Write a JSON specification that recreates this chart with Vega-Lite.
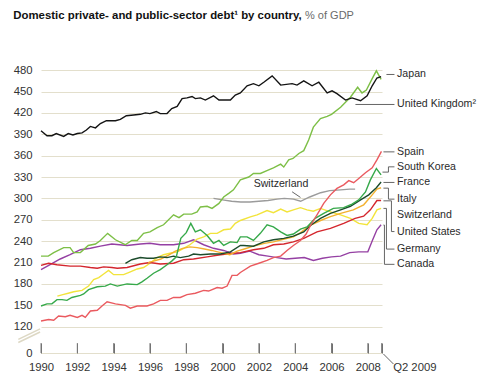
{
  "$schema": "https://vega.github.io/schema/vega-lite/v6.json",
  "width": 341,
  "height": 290,
  "autosize": "none",
  "padding": {"left": 41, "top": 63, "right": 98, "bottom": 33},
  "background": "white",
  "config": {
    "view": {"stroke": null},
    "font": "Liberation Sans",
    "axis": {"labelOverlap": false, "labelFlush": false, "labelFont": "Liberation Sans", "labelFontSize": 11.3, "labelColor": "#333", "title": null, "tickCount": 60},
    "axisX": {"grid": false, "domain": false, "ticks": true, "tickSize": -10, "tickColor": "#6f6f6f", "tickWidth": 1, "labelPadding": 18},
    "axisY": {"grid": true, "gridColor": "#e3dfcc", "domain": false, "ticks": false, "labelPadding": 9}
  },
  "datasets": {
    "series": [
      {"country": "Switzerland", "year": 1999.5, "value": 300}, {"country": "Switzerland", "year": 2000.0, "value": 298}, {"country": "Switzerland", "year": 2000.5, "value": 296}, {"country": "Switzerland", "year": 2001.0, "value": 295}, {"country": "Switzerland", "year": 2001.5, "value": 295}, {"country": "Switzerland", "year": 2002.0, "value": 296}, {"country": "Switzerland", "year": 2002.5, "value": 297}, {"country": "Switzerland", "year": 2003.0, "value": 299}, {"country": "Switzerland", "year": 2003.4, "value": 300}, {"country": "Switzerland", "year": 2003.9, "value": 299}, {"country": "Switzerland", "year": 2004.3, "value": 296}, {"country": "Switzerland", "year": 2004.8, "value": 302}, {"country": "Switzerland", "year": 2005.4, "value": 308}, {"country": "Switzerland", "year": 2005.9, "value": 311}, {"country": "Switzerland", "year": 2006.5, "value": 312}, {"country": "Switzerland", "year": 2007.0, "value": 313}, {"country": "Switzerland", "year": 2007.3, "value": 313},

      {"country": "Canada", "year": 1990.0, "value": 200}, {"country": "Canada", "year": 1990.5, "value": 207}, {"country": "Canada", "year": 1991.06, "value": 215}, {"country": "Canada", "year": 1991.6, "value": 221}, {"country": "Canada", "year": 1992.17, "value": 228}, {"country": "Canada", "year": 1992.72, "value": 230}, {"country": "Canada", "year": 1993.27, "value": 233}, {"country": "Canada", "year": 1993.9, "value": 236}, {"country": "Canada", "year": 1994.74, "value": 234}, {"country": "Canada", "year": 1995.47, "value": 236}, {"country": "Canada", "year": 1996.0, "value": 237}, {"country": "Canada", "year": 1996.57, "value": 235}, {"country": "Canada", "year": 1997.3, "value": 235}, {"country": "Canada", "year": 1997.86, "value": 237}, {"country": "Canada", "year": 1998.4, "value": 242}, {"country": "Canada", "year": 1998.96, "value": 235}, {"country": "Canada", "year": 1999.5, "value": 230}, {"country": "Canada", "year": 2000.06, "value": 227}, {"country": "Canada", "year": 2000.6, "value": 222}, {"country": "Canada", "year": 2000.98, "value": 223}, {"country": "Canada", "year": 2001.5, "value": 226}, {"country": "Canada", "year": 2002.0, "value": 221}, {"country": "Canada", "year": 2002.5, "value": 219}, {"country": "Canada", "year": 2003.0, "value": 217}, {"country": "Canada", "year": 2003.5, "value": 215}, {"country": "Canada", "year": 2004.0, "value": 216}, {"country": "Canada", "year": 2004.5, "value": 217}, {"country": "Canada", "year": 2005.0, "value": 213}, {"country": "Canada", "year": 2005.5, "value": 216}, {"country": "Canada", "year": 2006.0, "value": 218}, {"country": "Canada", "year": 2006.5, "value": 219}, {"country": "Canada", "year": 2007.0, "value": 224}, {"country": "Canada", "year": 2007.5, "value": 225}, {"country": "Canada", "year": 2008.0, "value": 225}, {"country": "Canada", "year": 2008.25, "value": 241}, {"country": "Canada", "year": 2008.5, "value": 256}, {"country": "Canada", "year": 2008.73, "value": 263},

      {"country": "Germany", "year": 1990.9, "value": 163}, {"country": "Germany", "year": 1991.2, "value": 165}, {"country": "Germany", "year": 1991.5, "value": 167}, {"country": "Germany", "year": 1991.8, "value": 169}, {"country": "Germany", "year": 1992.26, "value": 171}, {"country": "Germany", "year": 1992.62, "value": 177}, {"country": "Germany", "year": 1992.9, "value": 186}, {"country": "Germany", "year": 1993.18, "value": 189}, {"country": "Germany", "year": 1993.45, "value": 194}, {"country": "Germany", "year": 1993.72, "value": 199}, {"country": "Germany", "year": 1994.0, "value": 193}, {"country": "Germany", "year": 1994.55, "value": 193}, {"country": "Germany", "year": 1994.92, "value": 197}, {"country": "Germany", "year": 1995.3, "value": 201}, {"country": "Germany", "year": 1995.65, "value": 203}, {"country": "Germany", "year": 1996.0, "value": 209}, {"country": "Germany", "year": 1996.4, "value": 217}, {"country": "Germany", "year": 1996.75, "value": 221}, {"country": "Germany", "year": 1997.1, "value": 223}, {"country": "Germany", "year": 1997.5, "value": 225}, {"country": "Germany", "year": 1997.86, "value": 230}, {"country": "Germany", "year": 1998.2, "value": 235}, {"country": "Germany", "year": 1998.6, "value": 243}, {"country": "Germany", "year": 1998.96, "value": 246}, {"country": "Germany", "year": 1999.33, "value": 251}, {"country": "Germany", "year": 1999.7, "value": 251}, {"country": "Germany", "year": 2000.06, "value": 256}, {"country": "Germany", "year": 2000.43, "value": 257}, {"country": "Germany", "year": 2000.7, "value": 265}, {"country": "Germany", "year": 2000.98, "value": 269}, {"country": "Germany", "year": 2001.53, "value": 274}, {"country": "Germany", "year": 2001.9, "value": 277}, {"country": "Germany", "year": 2002.45, "value": 283}, {"country": "Germany", "year": 2002.8, "value": 280}, {"country": "Germany", "year": 2003.2, "value": 285}, {"country": "Germany", "year": 2003.55, "value": 281}, {"country": "Germany", "year": 2003.9, "value": 284}, {"country": "Germany", "year": 2004.29, "value": 287}, {"country": "Germany", "year": 2004.65, "value": 284}, {"country": "Germany", "year": 2005.0, "value": 282}, {"country": "Germany", "year": 2005.39, "value": 286}, {"country": "Germany", "year": 2005.94, "value": 281}, {"country": "Germany", "year": 2006.5, "value": 277}, {"country": "Germany", "year": 2007.04, "value": 272}, {"country": "Germany", "year": 2007.5, "value": 265}, {"country": "Germany", "year": 2007.96, "value": 263}, {"country": "Germany", "year": 2008.24, "value": 272}, {"country": "Germany", "year": 2008.5, "value": 284}, {"country": "Germany", "year": 2008.73, "value": 286},

      {"country": "United States", "year": 1990.0, "value": 206}, {"country": "United States", "year": 1990.42, "value": 209}, {"country": "United States", "year": 1990.88, "value": 207}, {"country": "United States", "year": 1991.6, "value": 205}, {"country": "United States", "year": 1992.17, "value": 205}, {"country": "United States", "year": 1992.72, "value": 203}, {"country": "United States", "year": 1993.1, "value": 202}, {"country": "United States", "year": 1993.45, "value": 204}, {"country": "United States", "year": 1993.9, "value": 203}, {"country": "United States", "year": 1994.2, "value": 202}, {"country": "United States", "year": 1994.74, "value": 203}, {"country": "United States", "year": 1995.47, "value": 208}, {"country": "United States", "year": 1996.0, "value": 210}, {"country": "United States", "year": 1996.57, "value": 208}, {"country": "United States", "year": 1997.3, "value": 209}, {"country": "United States", "year": 1997.86, "value": 214}, {"country": "United States", "year": 1998.4, "value": 215}, {"country": "United States", "year": 1999.15, "value": 218}, {"country": "United States", "year": 1999.88, "value": 221}, {"country": "United States", "year": 2000.6, "value": 223}, {"country": "United States", "year": 2000.98, "value": 224}, {"country": "United States", "year": 2001.7, "value": 228}, {"country": "United States", "year": 2002.27, "value": 230}, {"country": "United States", "year": 2002.8, "value": 235}, {"country": "United States", "year": 2003.37, "value": 236}, {"country": "United States", "year": 2003.9, "value": 239}, {"country": "United States", "year": 2004.47, "value": 244}, {"country": "United States", "year": 2005.2, "value": 253}, {"country": "United States", "year": 2005.94, "value": 258}, {"country": "United States", "year": 2006.67, "value": 265}, {"country": "United States", "year": 2007.3, "value": 272}, {"country": "United States", "year": 2007.77, "value": 275}, {"country": "United States", "year": 2008.14, "value": 284}, {"country": "United States", "year": 2008.5, "value": 297}, {"country": "United States", "year": 2008.73, "value": 297},

      {"country": "Italy", "year": 1995.9, "value": 210}, {"country": "Italy", "year": 1996.2, "value": 212}, {"country": "Italy", "year": 1996.6, "value": 215}, {"country": "Italy", "year": 1997.0, "value": 220}, {"country": "Italy", "year": 1997.4, "value": 226}, {"country": "Italy", "year": 1997.8, "value": 230}, {"country": "Italy", "year": 1998.2, "value": 232}, {"country": "Italy", "year": 1998.6, "value": 231}, {"country": "Italy", "year": 1999.0, "value": 229}, {"country": "Italy", "year": 1999.4, "value": 227}, {"country": "Italy", "year": 1999.9, "value": 224}, {"country": "Italy", "year": 2000.4, "value": 221}, {"country": "Italy", "year": 2000.8, "value": 226}, {"country": "Italy", "year": 2001.2, "value": 229}, {"country": "Italy", "year": 2001.7, "value": 233}, {"country": "Italy", "year": 2002.3, "value": 237}, {"country": "Italy", "year": 2002.8, "value": 239}, {"country": "Italy", "year": 2003.4, "value": 243}, {"country": "Italy", "year": 2003.9, "value": 246}, {"country": "Italy", "year": 2004.3, "value": 252}, {"country": "Italy", "year": 2004.8, "value": 262}, {"country": "Italy", "year": 2005.4, "value": 269}, {"country": "Italy", "year": 2005.9, "value": 274}, {"country": "Italy", "year": 2006.5, "value": 279}, {"country": "Italy", "year": 2007.2, "value": 284}, {"country": "Italy", "year": 2007.77, "value": 291}, {"country": "Italy", "year": 2008.24, "value": 305}, {"country": "Italy", "year": 2008.5, "value": 313}, {"country": "Italy", "year": 2008.73, "value": 315},

      {"country": "France", "year": 1994.65, "value": 209}, {"country": "France", "year": 1995.0, "value": 214}, {"country": "France", "year": 1995.47, "value": 217}, {"country": "France", "year": 1995.84, "value": 216}, {"country": "France", "year": 1996.2, "value": 216}, {"country": "France", "year": 1996.57, "value": 218}, {"country": "France", "year": 1996.94, "value": 217}, {"country": "France", "year": 1997.3, "value": 219}, {"country": "France", "year": 1997.67, "value": 217}, {"country": "France", "year": 1998.13, "value": 219}, {"country": "France", "year": 1998.4, "value": 222}, {"country": "France", "year": 1998.78, "value": 221}, {"country": "France", "year": 1999.33, "value": 222}, {"country": "France", "year": 1999.88, "value": 222}, {"country": "France", "year": 2000.43, "value": 225}, {"country": "France", "year": 2000.98, "value": 234}, {"country": "France", "year": 2001.16, "value": 234}, {"country": "France", "year": 2001.7, "value": 233}, {"country": "France", "year": 2002.27, "value": 239}, {"country": "France", "year": 2002.8, "value": 242}, {"country": "France", "year": 2003.37, "value": 244}, {"country": "France", "year": 2003.9, "value": 247}, {"country": "France", "year": 2004.47, "value": 253}, {"country": "France", "year": 2004.84, "value": 262}, {"country": "France", "year": 2005.39, "value": 272}, {"country": "France", "year": 2005.94, "value": 279}, {"country": "France", "year": 2006.5, "value": 284}, {"country": "France", "year": 2007.04, "value": 289}, {"country": "France", "year": 2007.6, "value": 298}, {"country": "France", "year": 2008.05, "value": 305}, {"country": "France", "year": 2008.47, "value": 315}, {"country": "France", "year": 2008.73, "value": 323},

      {"country": "South Korea", "year": 1990.0, "value": 149}, {"country": "South Korea", "year": 1990.33, "value": 152}, {"country": "South Korea", "year": 1990.6, "value": 152}, {"country": "South Korea", "year": 1990.88, "value": 158}, {"country": "South Korea", "year": 1991.16, "value": 158}, {"country": "South Korea", "year": 1991.43, "value": 157}, {"country": "South Korea", "year": 1991.7, "value": 161}, {"country": "South Korea", "year": 1992.17, "value": 164}, {"country": "South Korea", "year": 1992.35, "value": 166}, {"country": "South Korea", "year": 1992.62, "value": 172}, {"country": "South Korea", "year": 1993.1, "value": 176}, {"country": "South Korea", "year": 1993.54, "value": 177}, {"country": "South Korea", "year": 1993.82, "value": 180}, {"country": "South Korea", "year": 1994.2, "value": 177}, {"country": "South Korea", "year": 1994.74, "value": 180}, {"country": "South Korea", "year": 1995.3, "value": 179}, {"country": "South Korea", "year": 1995.56, "value": 183}, {"country": "South Korea", "year": 1995.84, "value": 188}, {"country": "South Korea", "year": 1996.2, "value": 195}, {"country": "South Korea", "year": 1996.57, "value": 200}, {"country": "South Korea", "year": 1996.94, "value": 207}, {"country": "South Korea", "year": 1997.2, "value": 212}, {"country": "South Korea", "year": 1997.45, "value": 218}, {"country": "South Korea", "year": 1997.7, "value": 244}, {"country": "South Korea", "year": 1998.0, "value": 252}, {"country": "South Korea", "year": 1998.25, "value": 265}, {"country": "South Korea", "year": 1998.5, "value": 253}, {"country": "South Korea", "year": 1998.78, "value": 256}, {"country": "South Korea", "year": 1999.15, "value": 248}, {"country": "South Korea", "year": 1999.5, "value": 237}, {"country": "South Korea", "year": 1999.8, "value": 241}, {"country": "South Korea", "year": 2000.06, "value": 234}, {"country": "South Korea", "year": 2000.43, "value": 239}, {"country": "South Korea", "year": 2000.8, "value": 238}, {"country": "South Korea", "year": 2000.98, "value": 246}, {"country": "South Korea", "year": 2001.35, "value": 246}, {"country": "South Korea", "year": 2001.7, "value": 241}, {"country": "South Korea", "year": 2002.08, "value": 251}, {"country": "South Korea", "year": 2002.45, "value": 263}, {"country": "South Korea", "year": 2002.8, "value": 260}, {"country": "South Korea", "year": 2003.2, "value": 253}, {"country": "South Korea", "year": 2003.55, "value": 248}, {"country": "South Korea", "year": 2003.9, "value": 250}, {"country": "South Korea", "year": 2004.29, "value": 257}, {"country": "South Korea", "year": 2004.65, "value": 260}, {"country": "South Korea", "year": 2005.1, "value": 272}, {"country": "South Korea", "year": 2005.57, "value": 279}, {"country": "South Korea", "year": 2006.1, "value": 286}, {"country": "South Korea", "year": 2006.67, "value": 287}, {"country": "South Korea", "year": 2007.13, "value": 292}, {"country": "South Korea", "year": 2007.5, "value": 298}, {"country": "South Korea", "year": 2007.87, "value": 309}, {"country": "South Korea", "year": 2008.14, "value": 326}, {"country": "South Korea", "year": 2008.47, "value": 342}, {"country": "South Korea", "year": 2008.73, "value": 333},

      {"country": "Spain", "year": 1990.0, "value": 128}, {"country": "Spain", "year": 1990.42, "value": 130}, {"country": "Spain", "year": 1990.7, "value": 129}, {"country": "Spain", "year": 1990.97, "value": 135}, {"country": "Spain", "year": 1991.34, "value": 134}, {"country": "Spain", "year": 1991.6, "value": 136}, {"country": "Spain", "year": 1992.0, "value": 133}, {"country": "Spain", "year": 1992.26, "value": 136}, {"country": "Spain", "year": 1992.44, "value": 133}, {"country": "Spain", "year": 1992.72, "value": 142}, {"country": "Spain", "year": 1993.1, "value": 143}, {"country": "Spain", "year": 1993.36, "value": 149}, {"country": "Spain", "year": 1993.64, "value": 155}, {"country": "Spain", "year": 1994.1, "value": 152}, {"country": "Spain", "year": 1994.65, "value": 150}, {"country": "Spain", "year": 1994.92, "value": 146}, {"country": "Spain", "year": 1995.3, "value": 149}, {"country": "Spain", "year": 1995.84, "value": 149}, {"country": "Spain", "year": 1996.2, "value": 152}, {"country": "Spain", "year": 1996.57, "value": 157}, {"country": "Spain", "year": 1996.94, "value": 157}, {"country": "Spain", "year": 1997.3, "value": 161}, {"country": "Spain", "year": 1997.67, "value": 161}, {"country": "Spain", "year": 1998.04, "value": 165}, {"country": "Spain", "year": 1998.5, "value": 167}, {"country": "Spain", "year": 1998.96, "value": 171}, {"country": "Spain", "year": 1999.23, "value": 170}, {"country": "Spain", "year": 1999.7, "value": 175}, {"country": "Spain", "year": 1999.97, "value": 174}, {"country": "Spain", "year": 2000.25, "value": 177}, {"country": "Spain", "year": 2000.52, "value": 192}, {"country": "Spain", "year": 2000.8, "value": 192}, {"country": "Spain", "year": 2000.98, "value": 196}, {"country": "Spain", "year": 2001.53, "value": 205}, {"country": "Spain", "year": 2002.0, "value": 209}, {"country": "Spain", "year": 2002.45, "value": 213}, {"country": "Spain", "year": 2002.8, "value": 217}, {"country": "Spain", "year": 2003.2, "value": 219}, {"country": "Spain", "year": 2003.55, "value": 227}, {"country": "Spain", "year": 2003.9, "value": 234}, {"country": "Spain", "year": 2004.29, "value": 241}, {"country": "Spain", "year": 2004.6, "value": 250}, {"country": "Spain", "year": 2004.84, "value": 262}, {"country": "Spain", "year": 2005.2, "value": 277}, {"country": "Spain", "year": 2005.57, "value": 293}, {"country": "Spain", "year": 2005.94, "value": 305}, {"country": "Spain", "year": 2006.3, "value": 314}, {"country": "Spain", "year": 2006.67, "value": 319}, {"country": "Spain", "year": 2006.95, "value": 325}, {"country": "Spain", "year": 2007.22, "value": 322}, {"country": "Spain", "year": 2007.5, "value": 328}, {"country": "Spain", "year": 2007.87, "value": 336}, {"country": "Spain", "year": 2008.24, "value": 343}, {"country": "Spain", "year": 2008.5, "value": 354}, {"country": "Spain", "year": 2008.75, "value": 366},

      {"country": "United Kingdom", "year": 1990.0, "value": 219}, {"country": "United Kingdom", "year": 1990.4, "value": 219}, {"country": "United Kingdom", "year": 1990.7, "value": 224}, {"country": "United Kingdom", "year": 1991.25, "value": 231}, {"country": "United Kingdom", "year": 1991.6, "value": 231}, {"country": "United Kingdom", "year": 1991.8, "value": 224}, {"country": "United Kingdom", "year": 1992.17, "value": 224}, {"country": "United Kingdom", "year": 1992.6, "value": 234}, {"country": "United Kingdom", "year": 1993.0, "value": 236}, {"country": "United Kingdom", "year": 1993.27, "value": 241}, {"country": "United Kingdom", "year": 1993.67, "value": 251}, {"country": "United Kingdom", "year": 1994.1, "value": 242}, {"country": "United Kingdom", "year": 1994.64, "value": 235}, {"country": "United Kingdom", "year": 1995.0, "value": 241}, {"country": "United Kingdom", "year": 1995.3, "value": 241}, {"country": "United Kingdom", "year": 1995.65, "value": 251}, {"country": "United Kingdom", "year": 1996.0, "value": 253}, {"country": "United Kingdom", "year": 1996.4, "value": 259}, {"country": "United Kingdom", "year": 1996.75, "value": 263}, {"country": "United Kingdom", "year": 1997.3, "value": 277}, {"country": "United Kingdom", "year": 1997.6, "value": 273}, {"country": "United Kingdom", "year": 1997.86, "value": 278}, {"country": "United Kingdom", "year": 1998.3, "value": 278}, {"country": "United Kingdom", "year": 1998.6, "value": 281}, {"country": "United Kingdom", "year": 1998.78, "value": 288}, {"country": "United Kingdom", "year": 1999.15, "value": 289}, {"country": "United Kingdom", "year": 1999.42, "value": 286}, {"country": "United Kingdom", "year": 1999.8, "value": 293}, {"country": "United Kingdom", "year": 2000.06, "value": 302}, {"country": "United Kingdom", "year": 2000.34, "value": 307}, {"country": "United Kingdom", "year": 2000.6, "value": 312}, {"country": "United Kingdom", "year": 2000.98, "value": 326}, {"country": "United Kingdom", "year": 2001.44, "value": 330}, {"country": "United Kingdom", "year": 2001.7, "value": 335}, {"country": "United Kingdom", "year": 2002.08, "value": 335}, {"country": "United Kingdom", "year": 2002.54, "value": 340}, {"country": "United Kingdom", "year": 2002.8, "value": 343}, {"country": "United Kingdom", "year": 2003.2, "value": 348}, {"country": "United Kingdom", "year": 2003.37, "value": 344}, {"country": "United Kingdom", "year": 2003.64, "value": 354}, {"country": "United Kingdom", "year": 2003.88, "value": 356}, {"country": "United Kingdom", "year": 2004.2, "value": 363}, {"country": "United Kingdom", "year": 2004.47, "value": 367}, {"country": "United Kingdom", "year": 2004.74, "value": 382}, {"country": "United Kingdom", "year": 2005.0, "value": 400}, {"country": "United Kingdom", "year": 2005.39, "value": 412}, {"country": "United Kingdom", "year": 2005.76, "value": 415}, {"country": "United Kingdom", "year": 2006.0, "value": 418}, {"country": "United Kingdom", "year": 2006.5, "value": 428}, {"country": "United Kingdom", "year": 2007.04, "value": 442}, {"country": "United Kingdom", "year": 2007.44, "value": 456}, {"country": "United Kingdom", "year": 2007.68, "value": 448}, {"country": "United Kingdom", "year": 2007.92, "value": 452}, {"country": "United Kingdom", "year": 2008.24, "value": 468}, {"country": "United Kingdom", "year": 2008.47, "value": 479}, {"country": "United Kingdom", "year": 2008.73, "value": 467},

      {"country": "Japan", "year": 1990.0, "value": 395}, {"country": "Japan", "year": 1990.33, "value": 388}, {"country": "Japan", "year": 1990.6, "value": 388}, {"country": "Japan", "year": 1990.84, "value": 391}, {"country": "Japan", "year": 1991.25, "value": 387}, {"country": "Japan", "year": 1991.5, "value": 391}, {"country": "Japan", "year": 1991.76, "value": 389}, {"country": "Japan", "year": 1992.0, "value": 391}, {"country": "Japan", "year": 1992.26, "value": 392}, {"country": "Japan", "year": 1992.5, "value": 396}, {"country": "Japan", "year": 1992.72, "value": 401}, {"country": "Japan", "year": 1993.0, "value": 399}, {"country": "Japan", "year": 1993.27, "value": 405}, {"country": "Japan", "year": 1993.6, "value": 409}, {"country": "Japan", "year": 1994.1, "value": 409}, {"country": "Japan", "year": 1994.37, "value": 411}, {"country": "Japan", "year": 1994.7, "value": 416}, {"country": "Japan", "year": 1995.1, "value": 417}, {"country": "Japan", "year": 1995.47, "value": 418}, {"country": "Japan", "year": 1995.75, "value": 420}, {"country": "Japan", "year": 1996.0, "value": 419}, {"country": "Japan", "year": 1996.35, "value": 422}, {"country": "Japan", "year": 1996.57, "value": 419}, {"country": "Japan", "year": 1996.94, "value": 419}, {"country": "Japan", "year": 1997.2, "value": 426}, {"country": "Japan", "year": 1997.5, "value": 429}, {"country": "Japan", "year": 1997.77, "value": 440}, {"country": "Japan", "year": 1998.04, "value": 441}, {"country": "Japan", "year": 1998.32, "value": 443}, {"country": "Japan", "year": 1998.5, "value": 440}, {"country": "Japan", "year": 1998.78, "value": 441}, {"country": "Japan", "year": 1999.05, "value": 438}, {"country": "Japan", "year": 1999.5, "value": 444}, {"country": "Japan", "year": 1999.8, "value": 438}, {"country": "Japan", "year": 2000.43, "value": 438}, {"country": "Japan", "year": 2000.7, "value": 445}, {"country": "Japan", "year": 2000.98, "value": 448}, {"country": "Japan", "year": 2001.35, "value": 458}, {"country": "Japan", "year": 2001.7, "value": 461}, {"country": "Japan", "year": 2002.0, "value": 458}, {"country": "Japan", "year": 2002.27, "value": 463}, {"country": "Japan", "year": 2002.73, "value": 472}, {"country": "Japan", "year": 2003.2, "value": 459}, {"country": "Japan", "year": 2003.83, "value": 461}, {"country": "Japan", "year": 2004.1, "value": 459}, {"country": "Japan", "year": 2004.47, "value": 465}, {"country": "Japan", "year": 2004.93, "value": 458}, {"country": "Japan", "year": 2005.3, "value": 463}, {"country": "Japan", "year": 2005.76, "value": 448}, {"country": "Japan", "year": 2006.03, "value": 451}, {"country": "Japan", "year": 2006.3, "value": 447}, {"country": "Japan", "year": 2006.77, "value": 438}, {"country": "Japan", "year": 2007.13, "value": 441}, {"country": "Japan", "year": 2007.6, "value": 437}, {"country": "Japan", "year": 2007.96, "value": 444}, {"country": "Japan", "year": 2008.24, "value": 458}, {"country": "Japan", "year": 2008.5, "value": 469}, {"country": "Japan", "year": 2008.73, "value": 471}
    ],
    "labels": [
      {"label": "Japan", "year": 2009.61, "value": 473.9},
      {"label": "United Kingdom²", "year": 2009.61, "value": 431.8},
      {"label": "Spain", "year": 2009.61, "value": 365.3},
      {"label": "South Korea", "year": 2009.61, "value": 344.3},
      {"label": "France", "year": 2009.61, "value": 322.4},
      {"label": "Italy", "year": 2009.61, "value": 299},
      {"label": "Switzerland", "year": 2009.61, "value": 276.6},
      {"label": "United States", "year": 2009.61, "value": 253.5},
      {"label": "Germany", "year": 2009.61, "value": 228.9},
      {"label": "Canada", "year": 2009.61, "value": 207.5},
      {"label": "Switzerland", "year": 2001.71, "value": 319.6}
    ],
    "titles": [
      {"text": "Domestic private- and public-sector debt¹ by country,", "part": "main", "year": 1988.474, "value": 552},
      {"text": "% of GDP", "part": "unit", "year": 2004.54, "value": 552}
    ],
    "ticks": [
      {"year": 1990, "lo": 0, "hi": 45}, {"year": 1992, "lo": 0, "hi": 45}, {"year": 1994, "lo": 0, "hi": 45}, {"year": 1996, "lo": 0, "hi": 45}, {"year": 1998, "lo": 0, "hi": 45}, {"year": 2000, "lo": 0, "hi": 45}, {"year": 2002, "lo": 0, "hi": 45}, {"year": 2004, "lo": 0, "hi": 45}, {"year": 2006, "lo": 0, "hi": 45}, {"year": 2008, "lo": 0, "hi": 45}, {"year": 2008.76, "lo": 0, "hi": 45}
    ],
    "connectors": [
      {"id": "Japan", "i": 1, "year": 2009.025, "value": 473.9}, {"id": "Japan", "i": 2, "year": 2009.466, "value": 473.9},
      {"id": "UK", "i": 1, "year": 2007.317, "value": 431.8}, {"id": "UK", "i": 2, "year": 2009.466, "value": 431.8},
      {"id": "Spain", "i": 1, "year": 2008.86, "value": 365.3}, {"id": "Spain", "i": 2, "year": 2009.466, "value": 365.3},
      {"id": "Korea", "i": 1, "year": 2008.805, "value": 336.9}, {"id": "Korea", "i": 2, "year": 2009.135, "value": 336.9}, {"id": "Korea", "i": 3, "year": 2009.135, "value": 344.3}, {"id": "Korea", "i": 4, "year": 2009.466, "value": 344.3},
      {"id": "France", "i": 1, "year": 2008.86, "value": 322.4}, {"id": "France", "i": 2, "year": 2009.466, "value": 322.4},
      {"id": "Italy", "i": 1, "year": 2008.86, "value": 314.4}, {"id": "Italy", "i": 2, "year": 2009.135, "value": 314.4}, {"id": "Italy", "i": 3, "year": 2009.135, "value": 299}, {"id": "Italy", "i": 4, "year": 2009.466, "value": 299},
      {"id": "US", "i": 1, "year": 2008.86, "value": 296.6}, {"id": "US", "i": 2, "year": 2009.3, "value": 296.6}, {"id": "US", "i": 3, "year": 2009.3, "value": 253.5}, {"id": "US", "i": 4, "year": 2009.466, "value": 253.5},
      {"id": "Germany", "i": 1, "year": 2008.86, "value": 286}, {"id": "Germany", "i": 2, "year": 2009.025, "value": 286}, {"id": "Germany", "i": 3, "year": 2009.025, "value": 228.9}, {"id": "Germany", "i": 4, "year": 2009.466, "value": 228.9},
      {"id": "Canada", "i": 1, "year": 2008.86, "value": 262.6}, {"id": "Canada", "i": 2, "year": 2008.915, "value": 262.6}, {"id": "Canada", "i": 3, "year": 2008.915, "value": 207.5}, {"id": "Canada", "i": 4, "year": 2009.466, "value": 207.5},
      {"id": "SwissMid", "i": 1, "year": 2003.83, "value": 309.3}, {"id": "SwissMid", "i": 2, "year": 2004.29, "value": 301.4},
      {"id": "Q2", "i": 1, "year": 2008.86, "value": -4.6}, {"id": "Q2", "i": 2, "year": 2009.41, "value": -50.2}
    ],
    "breaks": [
      {"id": "a", "year": 1988.75, "value": 48}, {"id": "a", "year": 1989.95, "value": 96},
      {"id": "b", "year": 1988.75, "value": 62}, {"id": "b", "year": 1989.95, "value": 110}
    ]
  },
  "layer": [
    {
      "data": {"name": "series"},
      "mark": {"type": "line", "strokeWidth": 1.4},
      "encoding": {
        "x": {
          "field": "year", "type": "quantitative",
          "scale": {"domain": [1990, 2008.78], "nice": false, "zero": false},
          "axis": {
            "values": [1990, 1992, 1994, 1996, 1998, 2000, 2002, 2004, 2006, 2008, 2008.76],
            "tickCount": 60,
            "format": "d",
            "labelExpr": "datum.value > 2008.5 ? 'Q2 2009' : datum.label",
            "labelOverlap": false,
            "labelAlign": {"condition": {"test": "datum.value > 2008.5", "value": "left"}, "value": "center"},
            "labelOffset": {"condition": {"test": "datum.value > 2008.5", "value": 11}, "value": 0}
          }
        },
        "y": {
          "field": "value", "type": "quantitative",
          "scale": {"domain": [0, 120, 490], "range": [290, 263.7, 0], "nice": false, "zero": false},
          "axis": {
            "values": [0, 120, 150, 180, 210, 240, 270, 300, 330, 360, 390, 420, 450, 480],
            "tickCount": 60,
            "labelOverlap": false
          }
        },
        "color": {
          "field": "country", "type": "nominal", "legend": null,
          "scale": {
            "domain": ["Japan", "United Kingdom", "Spain", "South Korea", "France", "Italy", "Germany", "United States", "Canada", "Switzerland"],
            "range": ["#141414", "#7dbf46", "#ea5a5f", "#36a94a", "#1d4c2c", "#f3b12f", "#f2e43c", "#d4262d", "#9540a3", "#9b9b9b"]
          }
        }
      }
    },
    {
      "data": {"name": "ticks"},
      "mark": {"type": "rule", "stroke": "#7a7a7a", "strokeWidth": 1},
      "encoding": {
        "x": {"field": "year", "type": "quantitative"},
        "y": {"field": "lo", "type": "quantitative"},
        "y2": {"field": "hi"}
      }
    },
    {
      "data": {"name": "breaks"},
      "mark": {"type": "line", "stroke": "#ddd8c4", "strokeWidth": 1.5, "clip": false},
      "encoding": {
        "x": {"field": "year", "type": "quantitative"},
        "y": {"field": "value", "type": "quantitative"},
        "detail": {"field": "id"}
      }
    },
    {
      "data": {"name": "connectors"},
      "mark": {"type": "line", "stroke": "#555", "strokeWidth": 0.9, "clip": false},
      "encoding": {
        "x": {"field": "year", "type": "quantitative"},
        "y": {"field": "value", "type": "quantitative"},
        "detail": {"field": "id"},
        "order": {"field": "i"}
      }
    },
    {
      "data": {"name": "labels"},
      "mark": {"type": "text", "align": "left", "baseline": "middle", "font": "Liberation Sans", "fontSize": 10.6, "color": "#2a2a2a", "clip": false},
      "encoding": {
        "x": {"field": "year", "type": "quantitative"},
        "y": {"field": "value", "type": "quantitative"},
        "text": {"field": "label"}
      }
    },
    {
      "data": {"name": "titles"},
      "transform": [{"filter": "datum.part === 'main'"}],
      "mark": {"type": "text", "align": "left", "baseline": "alphabetic", "font": "Liberation Sans", "fontSize": 11.4, "fontWeight": "bold", "color": "#111", "clip": false},
      "encoding": {
        "x": {"field": "year", "type": "quantitative"},
        "y": {"field": "value", "type": "quantitative"},
        "text": {"field": "text"}
      }
    },
    {
      "data": {"name": "titles"},
      "transform": [{"filter": "datum.part === 'unit'"}],
      "mark": {"type": "text", "align": "left", "baseline": "alphabetic", "font": "Liberation Sans", "fontSize": 11, "color": "#6b6b6b", "clip": false},
      "encoding": {
        "x": {"field": "year", "type": "quantitative"},
        "y": {"field": "value", "type": "quantitative"},
        "text": {"field": "text"}
      }
    }
  ]
}
